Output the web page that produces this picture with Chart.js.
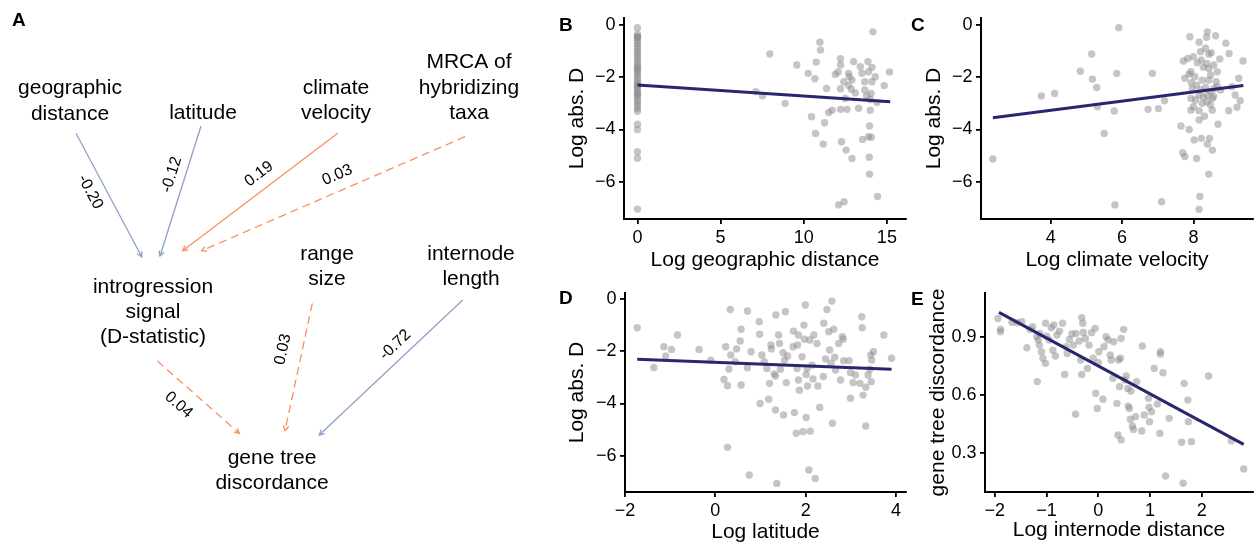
<!DOCTYPE html>
<html><head><meta charset="utf-8">
<script src="https://cdn.jsdelivr.net/npm/chart.js@4.4.1/dist/chart.umd.min.js"></script>
<style>
html,body{margin:0;padding:0;background:#fff;}
body{width:1257px;height:546px;position:relative;overflow:hidden;font-family:'Liberation Sans',Arial,Helvetica,sans-serif;}
canvas{position:absolute;}
.lbl{position:absolute;font-weight:bold;font-size:19px;line-height:19px;color:#000;}
</style></head><body>
<canvas id="cA" width="560" height="546" style="left:0;top:0"></canvas>
<canvas id="cB" width="360" height="275" style="left:560px;top:0"></canvas>
<canvas id="cD" width="360" height="271" style="left:560px;top:275px"></canvas>
<canvas id="cC" width="357" height="275" style="left:900px;top:0"></canvas>
<canvas id="cE" width="357" height="271" style="left:900px;top:275px"></canvas>
<div class="lbl" style="left:12px;top:10px">A</div>
<div class="lbl" style="left:559px;top:15px">B</div>
<div class="lbl" style="left:911px;top:15px">C</div>
<div class="lbl" style="left:559px;top:288px">D</div>
<div class="lbl" style="left:911px;top:289px">E</div>
<script>
// ---------- Panel A: path diagram ----------
const nodeLabels = [["geographic","distance"],["latitude"],["climate","velocity"],["MRCA of","hybridizing","taxa"],["introgression","signal","(D-statistic)"],["range","size"],["internode","length"],["gene tree","discordance"]];
const nodeX = [70, 203, 336, 469, 153, 327, 471, 272];
const nodeY = [94.3, 119.3, 94, 68.3, 292.7, 260, 260, 464];
const edgeFrom = [[76,133.3],[201,126],[337.7,133.3],[465,136.7],[157.3,361],[312.3,303.3],[462.7,300]];
const edgeTo   = [[141.7,256.7],[160,256],[182.7,250.7],[201.7,250.7],[239.3,433.3],[285,430.7],[319.3,435]];
const edgeCoef = ["-0.20","-0.12","0.19","0.03","0.04","0.03","-0.72"];
const edgeSignificant = [true, true, true, false, false, false, true];
const edgeLabelPos = [[90.3,192],[171.7,174.7],[259,174],[337.3,175],[178.7,405],[283,349.3],[395.3,345]];

// ---------- Panels B-E: scatter data ----------
const ptsB = [[0,-0.1],[0,-0.35],[0,-0.45],[0,-0.5],[0,-0.6],[0,-0.7],[0,-0.8],[0,-0.9],[0,-1.0],[0,-1.1],[0,-1.2],[0,-1.3],[0,-1.4],[0,-1.5],[0,-1.6],[0,-1.7],[0,-1.75],[0,-1.85],[0,-1.95],[0,-2.05],[0,-2.15],[0,-2.25],[0,-2.3],[0,-2.4],[0,-2.5],[0,-2.6],[0,-2.7],[0,-2.8],[0,-2.9],[0,-3.0],[0,-3.1],[0,-3.2],[0,-3.3],[0,-3.8],[0,-4.0],[0,-4.85],[0,-5.1],[0,-7.05],[0,-0.45],[0,-1.65],[0,-2.35],[0,-2.65],
[14.16,-0.26],[10.97,-0.66],[11.01,-0.96],[7.96,-1.11],[10.75,-1.42],[9.58,-1.53],[12.21,-1.29],[12.21,-1.53],[13.0,-1.40],[13.86,-1.40],[13.4,-1.6],[15.16,-1.8],[10.27,-1.85],[12.07,-1.8],[12.7,-1.85],[13.9,-1.79],[13.5,-1.85],[12.74,-1.98],[12.9,-2.1],[10.67,-2.06],[12.41,-2.17],[14.3,-1.98],[14.1,-2.17],[13.67,-2.17],[14.84,-2.32],[11.37,-2.43],[12.21,-2.44],[12.86,-2.46],[13.67,-2.49],[14.04,-2.62],[7.12,-2.55],[7.52,-2.71],[8.88,-3.0],[14.0,-2.85],[14.4,-2.97],[12.5,-2.81],[13.3,-3.19],[11.71,-3.26],[11.5,-3.35],[12.21,-3.23],[12.6,-3.23],[14.0,-3.26],[10.47,-3.51],[11.25,-3.74],[13.96,-3.87],[10.71,-4.15],[13.54,-4.38],[13.9,-4.28],[14.06,-4.30],[11.17,-4.56],[12.27,-4.47],[12.55,-4.79],[12.9,-5.11],[13.94,-5.06],[13.96,-5.71],[14.44,-6.57],[12.43,-6.77],[12.1,-6.89],[14.1,-1.62],[13.78,-2.72],[11.9,-1.89],[12.7,-2.31],[13.1,-2.6]];
const ptsC = [[2.38,-5.13],[3.74,-2.72],[4.11,-2.62],[4.83,-1.77],[5.15,-1.11],[5.17,-2.07],[5.29,-2.39],[5.31,-3.13],[5.50,-4.15],[5.80,-6.89],[5.78,-3.29],[5.85,-1.85],[5.91,-0.10],[6.73,-3.23],[6.85,-1.85],[7.02,-3.20],[7.19,-2.90],[7.11,-6.77],[7.65,-3.87],[7.70,-4.89],[7.76,-5.04],[7.72,-1.38],[7.90,-0.45],[7.88,-4.0],[7.93,-3.26],[8.0,-3.13],[8.02,-4.40],[8.09,-5.11],[8.16,-0.66],[8.20,-1.02],[8.39,-0.26],[8.37,-0.47],[8.62,-0.41],[8.43,-1.12],[8.74,-1.30],[8.91,-0.70],[9.0,-1.09],[9.39,-1.38],[9.27,-2.04],[9.08,-2.36],[9.17,-2.68],[9.31,-2.90],[8.99,-3.28],[9.22,-3.15],[8.69,-3.80],[8.53,-4.79],[8.39,-4.56],[8.45,-4.34],[8.22,-4.34],[8.16,-3.28],[8.43,-5.71],[8.18,-6.57],[8.16,-7.06],[8.31,-3.49],[8.57,-2.74],[8.64,-2.17],[8.67,-1.79],
[7.76,-2.04],[7.88,-1.88],[7.93,-1.79],[8.04,-1.98],[8.11,-1.44],[8.22,-1.34],[8.28,-1.62],[8.37,-1.47],[8.43,-1.66],[8.48,-1.91],[8.09,-2.30],[7.97,-2.45],[8.20,-2.49],[8.34,-2.39],[8.48,-2.55],[8.16,-2.68],[8.28,-2.77],[8.39,-2.68],[8.53,-2.81],[8.06,-2.87],[8.25,-3.0],[8.39,-2.94],[8.48,-3.06],[7.94,-2.21],[7.84,-1.28],[8.0,-1.21],[8.34,-0.89],[8.50,-1.06],[8.57,-1.53],[8.25,-2.11],[8.43,-2.11],[8.58,-2.43],[7.93,-2.81],[8.16,-3.64],[8.53,-3.26],[8.67,-2.36],[8.76,-2.49]];
const ptsD = [[-1.73,-1.10],[-1.36,-2.62],[-1.14,-1.83],[-1.10,-2.18],[-0.97,-1.93],[-0.84,-1.38],[-0.36,-1.93],[-0.10,-2.34],[0.19,-3.08],[0.23,-1.83],[0.27,-3.32],[0.27,-5.68],[0.30,-2.68],[0.33,-0.40],[0.34,-2.14],[0.44,-2.40],[0.47,-1.91],[0.55,-1.61],[0.57,-1.16],[0.57,-3.29],[0.71,-0.46],[0.71,-2.63],[0.75,-6.74],[0.79,-2.02],[0.97,-0.87],[0.98,-1.35],[0.99,-4.0],[1.03,-2.14],[1.08,-2.40],[1.14,-2.66],[1.18,-3.84],[1.20,-3.23],[1.23,-1.76],[1.24,-1.91],[1.30,-2.87],[1.33,-2.95],[1.34,-0.61],[1.33,-4.25],[1.36,-7.06],[1.40,-1.38],[1.42,-1.70],[1.44,-2.69],[1.50,-2.06],[1.53,-2.34],[1.51,-4.44],[1.55,-0.49],[1.57,-3.20],[1.60,-2.18],[1.72,-1.83],[1.73,-1.23],[1.75,-4.35],[1.79,-5.14],[1.81,-2.66],[1.82,-1.76],[1.84,-1.38],[1.84,-3.10],[1.86,-3.49],[1.92,-2.21],[1.94,-5.08],[1.96,-1.0],[1.97,-1.54],[1.99,-0.23],[2.01,-4.54],[2.01,-2.89],[2.03,-2.66],[2.04,-3.33],[2.07,-6.55],[2.09,-1.57],[2.10,-5.06],[2.14,-2.53],[2.16,-3.06],[2.18,-1.38],[2.21,-6.87],[2.25,-1.70],[2.27,-3.33],[2.31,-4.15],[2.39,-2.97],[2.40,-0.93],[2.44,-2.30],[2.47,-0.40],[2.51,-1.25],[2.53,-1.95],[2.56,-2.46],[2.58,-0.08],[2.59,-4.76],[2.62,-1.16],[2.64,-2.23],[2.66,-2.72],[2.73,-1.70],[2.77,-3.10],[2.81,-1.44],[2.83,-1.54],[2.84,-2.36],[2.96,-2.36],[2.99,-3.80],[2.99,-2.82],[3.05,-3.20],[3.10,-2.91],[3.20,-3.23],[3.24,-0.68],[3.25,-1.10],[3.27,-3.68],[3.33,-4.86],[3.33,-3.38],[3.38,-2.91],[3.42,-2.69],[3.45,-3.17],[3.44,-2.14],[3.50,-2.02],[3.46,-2.34],[3.73,-1.38],[3.90,-2.27]];
const ptsE = [[-1.94,0.994],[-1.89,0.938],[-1.89,0.926],[-1.67,0.974],[-1.57,0.972],[-1.48,0.977],[-1.38,0.843],[-1.32,0.938],[-1.27,0.951],[-1.19,0.900],[-1.18,0.669],[-1.16,0.883],[-1.14,0.857],[-1.13,0.917],[-1.10,0.823],[-1.07,0.789],[-1.02,0.969],[-1.00,0.903],[-1.02,0.763],[-0.95,0.883],[-0.91,0.946],[-0.88,0.831],[-0.86,0.960],[-0.83,0.801],[-0.80,0.909],[-0.75,0.929],[-0.69,0.969],[-0.65,0.706],[-0.62,0.849],[-0.60,0.814],[-0.56,0.886],[-0.51,0.914],[-0.48,0.857],[-0.44,0.501],[-0.43,0.917],[-0.37,0.878],[-0.34,0.780],[-0.32,0.998],[-0.32,0.706],[-0.30,0.969],[-0.29,0.922],[-0.25,0.891],[-0.21,0.737],[-0.18,0.857],[-0.13,0.921],[-0.10,0.789],[-0.06,0.943],[-0.05,0.609],[-0.02,0.531],[0.0,0.766],[0.01,0.823],[0.09,0.578],[0.11,0.849],[0.15,0.900],[0.19,0.883],[0.23,0.806],[0.25,0.780],[0.28,0.686],[0.30,0.874],[0.36,0.557],[0.38,0.394],[0.39,0.780],[0.41,0.643],[0.43,0.789],[0.44,0.369],[0.44,0.891],[0.49,0.938],[0.51,0.677],[0.54,0.698],[0.57,0.634],[0.58,0.543],[0.60,0.531],[0.62,0.475],[0.63,0.621],[0.66,0.441],[0.68,0.423],[0.72,0.489],[0.74,0.669],[0.84,0.415],[0.85,0.852],[0.89,0.497],[0.97,0.583],[0.98,0.537],[0.99,0.463],[1.03,0.514],[1.08,0.737],[1.14,0.554],[1.19,0.403],[1.20,0.823],[1.20,0.811],[1.25,0.715],[1.30,0.183],[1.37,0.480],[1.61,0.357],[1.64,0.146],[1.66,0.660],[1.73,0.574],[1.74,0.463],[1.80,0.360],[2.13,0.698],[2.57,0.365],[2.81,0.219]];

// fitted lines (endpoints)
const fitB = [[0, -2.30], [15.2, -2.94]];
const fitC = [[2.38, -3.55], [9.40, -2.32]];
const fitD = [[-1.73, -2.31], [3.90, -2.69]];
const fitE = [[-1.92, 1.025], [2.81, 0.346]];

// ticks
const ticksB_x = [0, 5, 10, 15];
const ticksC_x = [4, 6, 8];
const ticksD_x = [-2, 0, 2, 4];
const ticksE_x = [-2, -1, 0, 1, 2];
const ticksD_y = [0, -2, -4, -6];
const ticksE_y = [0.3, 0.6, 0.9];

// ---------- rendering ----------
const FONT = "'Liberation Sans', Arial, Helvetica, sans-serif";
Chart.defaults.font.family = FONT;
Chart.defaults.color = '#000';
const BLUE = '#8DA0CB', ORANGE = '#FC8D62', NAVY = '#27276f';
const POINT = 'rgba(140,140,140,0.5)';
const LINE_H = 25.3;

const diagramPlugin = {
  id: 'diagram',
  afterDatasetsDraw(chart) {
    const {ctx} = chart; const sx = chart.scales.x, sy = chart.scales.y;
    ctx.save();
    ctx.fillStyle = '#000';
    ctx.font = '21px ' + FONT;
    ctx.textAlign = 'center'; ctx.textBaseline = 'alphabetic';
    nodeLabels.forEach((lines, i) => {
      lines.forEach((t, j) => ctx.fillText(t, sx.getPixelForValue(nodeX[i]), sy.getPixelForValue(nodeY[i] + j * LINE_H)));
    });
    edgeFrom.forEach((f, i) => {
      const x1 = sx.getPixelForValue(f[0]), y1 = sy.getPixelForValue(f[1]);
      const x2 = sx.getPixelForValue(edgeTo[i][0]), y2 = sy.getPixelForValue(edgeTo[i][1]);
      const th = Math.atan2(y2 - y1, x2 - x1);
      const col = edgeCoef[i].startsWith('-') ? BLUE : ORANGE;
      ctx.strokeStyle = col; ctx.lineWidth = 1.3; ctx.setLineDash([]);
      const L = 5.5, a = 0.5;
      ctx.beginPath();
      ctx.moveTo(x2 - L * Math.cos(th - a), y2 - L * Math.sin(th - a));
      ctx.lineTo(x2, y2);
      ctx.lineTo(x2 - L * Math.cos(th + a), y2 - L * Math.sin(th + a));
      ctx.stroke();
      let rot = th;
      if (rot > Math.PI / 2) rot -= Math.PI;
      if (rot < -Math.PI / 2) rot += Math.PI;
      const lx = sx.getPixelForValue(edgeLabelPos[i][0]), ly = sy.getPixelForValue(edgeLabelPos[i][1]);
      ctx.save();
      ctx.translate(lx, ly); ctx.rotate(rot);
      ctx.font = '16px ' + FONT; ctx.fillStyle = '#000';
      ctx.textAlign = 'center'; ctx.textBaseline = 'middle';
      ctx.fillText(edgeCoef[i], 0, 0);
      ctx.restore();
    });
    ctx.restore();
  }
};

new Chart(document.getElementById('cA'), {
  type: 'scatter',
  data: { datasets: edgeFrom.map((f, i) => ({
    data: [{x: f[0], y: f[1]}, {x: edgeTo[i][0], y: edgeTo[i][1]}],
    showLine: true, pointRadius: 0, borderWidth: 1.3,
    borderColor: edgeCoef[i].startsWith('-') ? BLUE : ORANGE,
    borderDash: edgeSignificant[i] ? [] : [8, 5], clip: false
  })) },
  options: {
    responsive: false, animation: false, devicePixelRatio: 1, events: [],
    layout: {padding: 0},
    plugins: {legend: {display: false}, tooltip: {enabled: false}},
    scales: {
      x: {type: 'linear', min: 0, max: 560, display: false},
      y: {type: 'linear', min: 0, max: 546, reverse: true, display: false}
    }
  },
  plugins: [diagramPlugin]
});

const minusFmt = v => String(v).replace('-', '\u2212');

function panel(cfg) {
  const axisCommon = {
    type: 'linear',
    grid: {display: true, drawOnChartArea: false, drawTicks: true, tickLength: 5, color: '#000', lineWidth: 1.8},
    border: {display: true, color: '#000', width: 2}
  };
  return new Chart(document.getElementById(cfg.id), {
    type: 'scatter',
    data: { datasets: [
      { data: cfg.fit.map(p => ({x: p[0], y: p[1]})), showLine: true, borderColor: NAVY, borderWidth: 3, pointRadius: 0, clip: false },
      { data: cfg.pts.map(p => ({x: p[0], y: p[1]})), pointRadius: 3.7, pointBackgroundColor: POINT, pointBorderWidth: 0, clip: false }
    ]},
    options: {
      responsive: false, animation: false, devicePixelRatio: 1, events: [],
      layout: {padding: cfg.pad},
      plugins: {legend: {display: false}, tooltip: {enabled: false}},
      scales: {
        x: Object.assign({}, axisCommon, {
          min: cfg.xr[0], max: cfg.xr[1],
          afterBuildTicks: s => { s.ticks = cfg.xt.map(v => ({value: v})); },
          afterFit: s => { s.height = cfg.xH; },
          ticks: {color: '#000', font: {size: 18}, padding: 3, maxRotation: 0, autoSkip: false, callback: cfg.xf},
          title: {display: true, text: cfg.xTitle, color: '#000', font: {size: 21}, padding: {top: 0, bottom: cfg.tx}}
        }),
        y: Object.assign({}, axisCommon, {
          min: cfg.yr[0], max: cfg.yr[1],
          afterBuildTicks: s => { s.ticks = cfg.yt.map(v => ({value: v})); },
          afterFit: s => { s.width = cfg.yW; },
          ticks: {color: '#000', font: {size: 18}, padding: 3.5, autoSkip: false, callback: cfg.yf},
          title: {display: true, text: cfg.yTitle, color: '#000', font: {size: 21}, padding: {top: cfg.ty, bottom: 0}}
        })
      }
    }
  });
}

panel({id: 'cB', pts: ptsB, fit: fitB, xr: [-0.81, 16.15], yr: [-7.43, 0.27], xt: ticksB_x, yt: ticksD_y,
  xf: minusFmt, yf: minusFmt, xTitle: 'Log geographic distance', yTitle: 'Log abs. D',
  pad: {left: 0, right: 14, top: 18, bottom: 0}, yW: 64, xH: 56, tx: 2.4, ty: 4.4});
panel({id: 'cC', pts: ptsC, fit: fitC, xr: [2.047, 9.67], yr: [-7.43, 0.27], xt: ticksC_x, yt: ticksD_y,
  xf: minusFmt, yf: minusFmt, xTitle: 'Log climate velocity', yTitle: 'Log abs. D',
  pad: {left: 0, right: 0, top: 18, bottom: 0}, yW: 81, xH: 56, tx: 2.4, ty: 21.4});
panel({id: 'cD', pts: ptsD, fit: fitD, xr: [-2.0, 4.22], yr: [-7.39, 0.23], xt: ticksD_x, yt: ticksD_y,
  xf: minusFmt, yf: minusFmt, xTitle: 'Log latitude', yTitle: 'Log abs. D',
  pad: {left: 0, right: 14, top: 18, bottom: 0}, yW: 65, xH: 54, tx: 1.6, ty: 4.4});
panel({id: 'cE', pts: ptsE, fit: fitE, xr: [-2.19, 2.99], yr: [0.101, 1.125], xt: ticksE_x, yt: ticksE_y,
  xf: minusFmt, yf: v => v.toFixed(1), xTitle: 'Log internode distance', yTitle: 'gene tree discordance',
  pad: {left: 0, right: 0, top: 18, bottom: 0}, yW: 85, xH: 54, tx: 3, ty: 25.4});
</script>
</body></html>
